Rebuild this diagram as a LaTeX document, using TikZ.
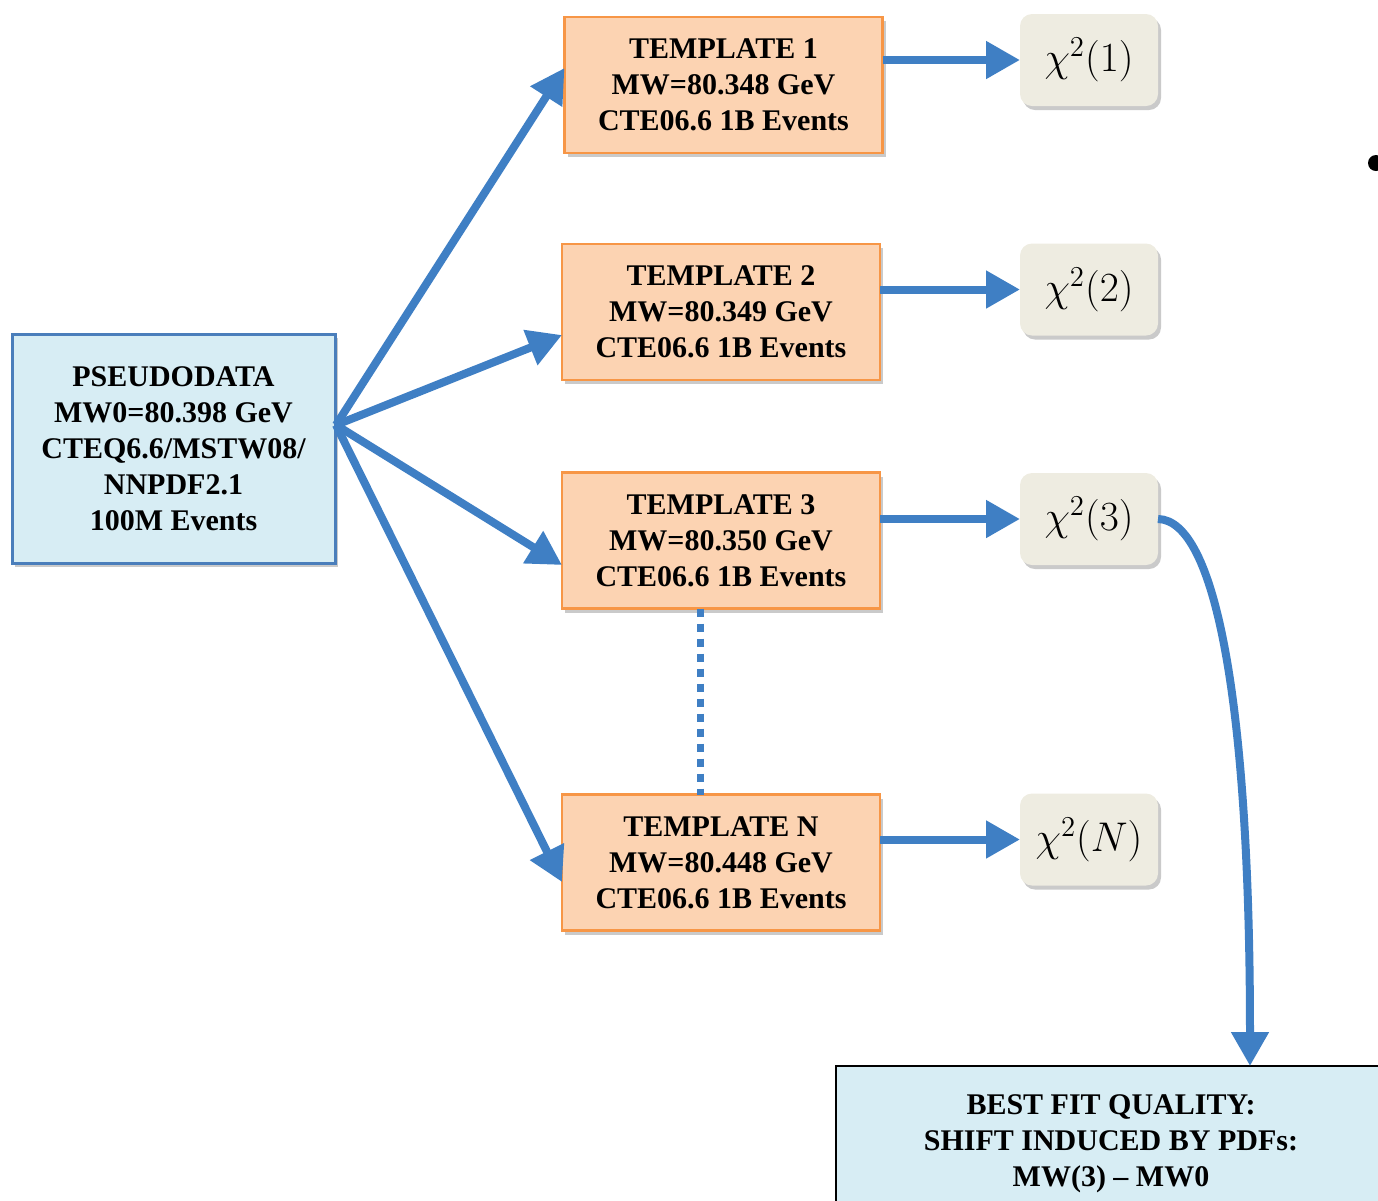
\documentclass[tikz,border=0pt]{standalone}
\usepackage{fontspec}
\setmainfont{Liberation Serif}
\usetikzlibrary{arrows.meta,shadows}
\definecolor{arrowblue}{HTML}{3F7FC4}
\definecolor{boxblue}{HTML}{D7EDF4}
\definecolor{boxblueline}{HTML}{4A7EBB}
\definecolor{peach}{HTML}{FCD3B2}
\definecolor{peachline}{HTML}{F79646}
\definecolor{beige}{HTML}{EEECE1}
\begin{document}
\begin{tikzpicture}[x=0.5pt,y=-0.5pt,
  every node/.style={inner sep=0pt, outer sep=0pt, align=center,
    font=\fontsize{15}{18}\selectfont\bfseries},
  shad/.style={drop shadow={shadow xshift=1.5pt,shadow yshift=-2pt,opacity=0.35,fill=black!60}},
  databox/.style={rectangle, fill=boxblue, draw=boxblueline, line width=1.5pt, shad},
  tplbox/.style={rectangle, fill=peach, draw=peachline, line width=1.3pt, shad,
    minimum width=159pt, minimum height=68pt},
  chibox/.style={rectangle, rounded corners=6pt, fill=beige, shad,
    minimum width=69pt, minimum height=46pt, font=\fontsize{20}{24}\selectfont},
  flow/.style={draw=arrowblue, line width=4pt,
    -{Triangle[length=17pt,width=18pt]}},
]
\useasboundingbox (0,0) rectangle (1378,1201);

\node[databox, minimum width=161.5pt, minimum height=114.5pt] (pd) at (173.5,448.5)
  {PSEUDODATA\\MW0=80.398 GeV\\CTEQ6.6/MSTW08/\\NNPDF2.1\\100M Events};

\node[tplbox] (t1) at (723.5,85) {TEMPLATE 1\\MW=80.348 GeV\\CTE06.6 1B Events};
\node[tplbox] (t2) at (721,312) {TEMPLATE 2\\MW=80.349 GeV\\CTE06.6 1B Events};
\node[tplbox] (t3) at (721,540.5) {TEMPLATE 3\\MW=80.350 GeV\\CTE06.6 1B Events};
\node[tplbox] (tn) at (721,862.5) {TEMPLATE N\\MW=80.448 GeV\\CTE06.6 1B Events};

\node[chibox] (c1) at (1089,60) {$\chi^2(1)$};
\node[chibox] (c2) at (1089,289.5) {$\chi^2(2)$};
\node[chibox] (c3) at (1089,519) {$\chi^2(3)$};
\node[chibox] (cn) at (1089,839.5) {$\chi^2(N)$};

\node[rectangle, fill=boxblue, draw=black, line width=1.2pt, shad,
  minimum width=275pt, minimum height=72pt, anchor=north west] (best) at (836,1066) {};
\node[anchor=north] (besttxt) at (1111,1095)
  {BEST FIT QUALITY:\\SHIFT INDUCED BY PDFs:\\MW(3) -- MW0};

\fill (1376,163) circle (4pt);

\coordinate (src) at (336,425);
\draw[flow] (src) -- (t1.west |- 0,68);
\draw[flow] (src) -- (t2.west |- 0,335);
\draw[flow] (src) -- (t3.west |- 0,565);
\draw[flow] (src) -- (tn.west |- 0,882);

\draw[flow] (t1.east |- c1) -- (c1.west);
\draw[flow] (t2.east |- c2) -- (c2.west);
\draw[flow] (t3.east |- c3) -- (c3.west);
\draw[flow] (tn.east |- cn) -- (cn.west);

\draw[flow] (c3.east) .. controls (1215,520) and (1250,700) .. (1250,1066);

\draw[arrowblue, line width=3.5pt, dash pattern=on 4pt off 3.5pt]
  ([xshift=-10.5pt]t3.south) -- ([xshift=-10.5pt]tn.north);
\end{tikzpicture}
\end{document}
